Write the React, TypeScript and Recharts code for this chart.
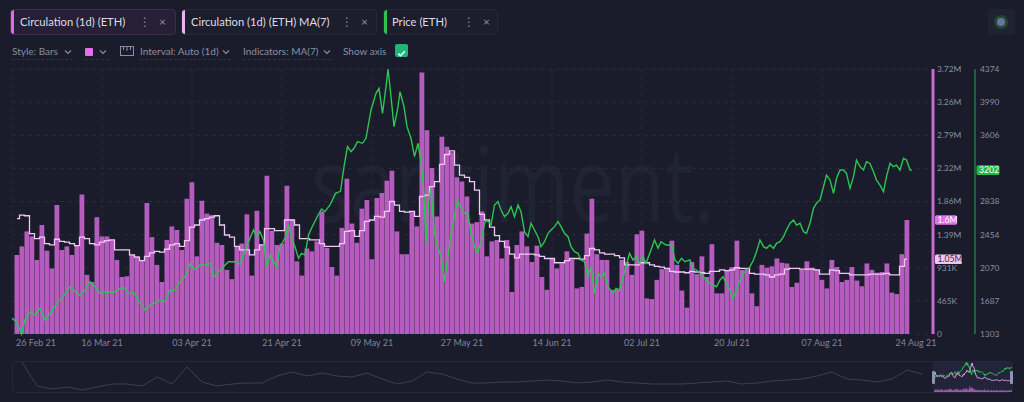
import React from 'react';
import { ComposedChart, LineChart, Bar, Line, XAxis, YAxis, CartesianGrid, ReferenceLine } from 'recharts';

const FONT = 'Lato, "Open Sans", "DejaVu Sans", sans-serif';
const BG = '#1a1c2b';
const PINK = '#b65cbf';
const MA_COLOR = '#f0c8f4';
const GREEN = '#2dc451';

// X axis (day offsets from 26 Feb 21)
const DATE_TICKS = [0, 18, 36, 54, 72, 90, 108, 126, 144, 162, 179];
const DATE_LABELS = ['26 Feb 21', '16 Mar 21', '03 Apr 21', '21 Apr 21', '09 May 21', '27 May 21', '14 Jun 21', '02 Jul 21', '20 Jul 21', '07 Aug 21', '24 Aug 21'];
const GRID_DAYS = [0, 18, 36, 54, 72, 90, 108, 126, 144, 162];

// Left (circulation) axis
const CIRC_TICKS = [0, 465000, 930000, 1395000, 1860000, 2325000, 2790000, 3255000, 3720000];
const CIRC_TICK_LABELS = ['0', '465K', '931K', '1.39M', '1.86M', '2.32M', '2.79M', '3.26M', '3.72M'];
// Right (price) axis
const PRICE_TICKS = [1303, 1686.875, 2070.75, 2454.625, 2838.5, 3222.375, 3606.25, 3990.125, 4374];
const PRICE_TICK_LABELS = ['1303', '1687', '2070', '2454', '2838', '', '3606', '3990', '4374'];

// Circulation (1d), millions ETH, days 1..179 (27 Feb .. 24 Aug)
const CIRC = [
  1.11, 1.23, 1.44, 1.37, 1.04, 1.53, 1.17, 0.92, 1.81, 1.18,
  1.23, 1.11, 1.25, 1.96, 0.83, 0.73, 1.64, 1.37, 1.37, 1.32,
  1.04, 0.80, 0.81, 1.11, 1.09, 1.04, 1.84, 1.36, 0.97, 0.73,
  1.32, 1.51, 1.46, 1.18, 1.90, 2.13, 1.09, 1.87, 1.69, 1.67,
  1.28, 1.25, 0.90, 0.77, 1.23, 1.27, 1.68, 0.82, 1.73, 1.25,
  2.22, 1.45, 1.25, 1.27, 2.08, 1.61, 1.02, 0.82, 1.20, 1.16,
  1.30, 1.72, 1.21, 0.94, 0.82, 1.49, 2.18, 1.55, 1.28, 1.76,
  1.88, 1.05, 1.91, 1.98, 2.15, 2.29, 1.44, 1.12, 1.12, 1.72,
  1.51, 3.67, 2.86, 2.33, 1.65, 2.77, 2.63, 2.55, 2.20, 2.14,
  1.93, 1.55, 1.57, 1.72, 1.09, 1.30, 1.32, 1.06, 1.32, 0.59,
  1.25, 1.44, 1.23, 1.01, 1.24, 0.80, 0.62, 1.06, 0.92, 0.99,
  1.16, 1.05, 0.64, 0.66, 1.41, 1.90, 1.12, 1.04, 1.04, 0.62,
  0.62, 1.04, 1.01, 0.83, 1.40, 1.45, 0.50, 0.49, 0.76, 0.91,
  0.92, 1.31, 0.97, 0.61, 0.37, 1.01, 0.84, 1.09, 0.80, 1.26,
  0.57, 0.57, 0.90, 0.94, 1.31, 0.90, 0.91, 0.57, 0.39, 0.97,
  0.93, 0.95, 1.06, 1.00, 0.99, 0.66, 0.72, 0.90, 1.02, 0.93,
  0.90, 0.76, 0.64, 1.04, 0.94, 0.73, 0.76, 0.94, 0.75, 0.67,
  0.99, 0.90, 0.86, 0.87, 0.99, 0.58, 0.56, 1.12, 1.60,
];

// Circulation MA(7), millions ETH, days 1..179
const MA7 = [
  1.62, 1.67, 1.66, 1.41, 1.34, 1.36, 1.27, 1.25, 1.33, 1.30,
  1.29, 1.27, 1.24, 1.36, 1.34, 1.27, 1.25, 1.29, 1.31, 1.32,
  1.18, 1.18, 1.18, 1.11, 1.08, 1.03, 1.09, 1.14, 1.16, 1.15,
  1.19, 1.25, 1.27, 1.23, 1.31, 1.50, 1.53, 1.60, 1.62, 1.64,
  1.66, 1.53, 1.39, 1.36, 1.23, 1.18, 1.18, 1.11, 1.18, 1.25,
  1.48, 1.48, 1.45, 1.45, 1.60, 1.60, 1.53, 1.34, 1.34, 1.32,
  1.32, 1.27, 1.23, 1.23, 1.23, 1.27, 1.44, 1.45, 1.37, 1.45,
  1.58, 1.60, 1.65, 1.64, 1.72, 1.86, 1.81, 1.72, 1.71, 1.72,
  1.65, 1.93, 1.95, 2.07, 2.14, 2.38, 2.52, 2.57, 2.37, 2.23,
  2.20, 2.14, 2.02, 1.68, 1.60, 1.50, 1.38, 1.30, 1.22, 1.12,
  1.07, 1.12, 1.12, 1.12, 1.11, 1.09, 1.06, 1.06, 1.00, 1.00,
  1.03, 1.06, 1.06, 1.05, 1.10, 1.20, 1.18, 1.14, 1.12, 1.12,
  1.10, 1.07, 0.97, 0.97, 0.97, 1.00, 1.00, 0.97, 0.95, 0.94,
  0.92, 0.88, 0.87, 0.87, 0.86, 0.88, 0.87, 0.86, 0.85, 0.88,
  0.88, 0.90, 0.89, 0.90, 0.93, 0.92, 0.92, 0.85, 0.84, 0.84,
  0.83, 0.80, 0.83, 0.84, 0.91, 0.92, 0.92, 0.91, 0.91, 0.91,
  0.90, 0.84, 0.84, 0.90, 0.89, 0.85, 0.85, 0.83, 0.83, 0.83,
  0.83, 0.84, 0.84, 0.84, 0.85, 0.83, 0.83, 0.95, 1.05,
];

// Price (ETH, USD): [day offset, price]
const PRICE: [number, number][] = [
  [0, 1485], [0.9, 1446], [1.9, 1303], [2.6, 1465], [3.6, 1561], [4.6, 1523], [5.6, 1601], [6.6, 1465],
  [7.9, 1561], [9.2, 1677], [10.2, 1735], [11.6, 1851], [12.6, 1793], [13.6, 1754], [14.6, 1812], [15.6, 1909],
  [16.6, 1851], [17.6, 1774], [18.9, 1793], [20.3, 1785], [21.3, 1821], [22.3, 1844], [23.3, 1774], [24.3, 1785],
  [25.3, 1689], [26.6, 1581], [27.6, 1639], [28.6, 1666], [29.6, 1697], [30.6, 1677], [31.6, 1813], [32.6, 1813],
  [33.6, 1909], [34.6, 1967], [35.6, 2122], [36.6, 2052], [37.6, 2102], [38.6, 2102], [39.6, 2122], [40.3, 1967],
  [41.3, 2025], [42.3, 2083], [43.3, 2141], [44.6, 2141], [45.6, 2111], [46.3, 2219], [47.3, 2373], [48.3, 2508],
  [48.9, 2431], [49.6, 2489], [50.3, 2392], [50.9, 2083], [51.6, 2219], [52.3, 2141], [52.9, 2083], [53.6, 2315],
  [54.6, 2412], [55.3, 2574], [55.9, 2412], [56.6, 2315], [57.3, 2180], [57.9, 2238], [58.6, 2219], [59.3, 2450],
  [59.9, 2528], [60.9, 2644], [61.9, 2752], [62.6, 2721], [63.6, 2798], [64.7, 2933], [65.7, 2956], [66.4, 3242],
  [67.1, 3474], [67.8, 3416], [68.4, 3455], [69.1, 3532], [70.1, 3513], [70.8, 3571], [71.8, 3899], [72.8, 4092],
  [73.4, 4150], [74.1, 3860], [74.8, 4170], [75.2, 4374], [75.8, 4053], [76.4, 3706], [77.1, 3899], [77.6, 4111],
  [78.4, 3938], [79, 3706], [79.8, 3571], [80.5, 3358], [81.2, 3513], [81.8, 3300], [82.3, 3010], [82.8, 2354],
  [83.3, 2838], [83.8, 2991], [84.5, 2470], [85.1, 2315], [85.8, 2199], [86.5, 1909], [87.1, 2161], [87.8, 2470],
  [88.5, 2663], [89.1, 2856], [89.8, 2760], [90.5, 2702], [91.1, 2721], [91.8, 2470], [92.5, 2315], [93.1, 2238],
  [93.8, 2373], [94.5, 2586], [95.1, 2624], [95.8, 2566], [96.5, 2798], [97.2, 2837], [97.8, 2740], [98.5, 2663],
  [99.2, 2702], [99.8, 2779], [100.5, 2663], [101.2, 2798], [101.8, 2721], [102.5, 2489], [103.2, 2431], [103.8, 2586],
  [104.5, 2508], [105.2, 2431], [105.8, 2315], [106.5, 2373], [107.2, 2470], [107.8, 2508], [108.5, 2547], [109.2, 2605],
  [109.8, 2547], [110.5, 2470], [111.2, 2431], [111.8, 2315], [112.5, 2257], [113.2, 2238], [113.8, 2161], [114.5, 2141],
  [115.2, 1967], [115.8, 2083], [116.5, 1774], [117.2, 2006], [117.8, 1967], [118.5, 2006], [119.2, 1851], [120.2, 1774],
  [120.8, 1832], [121.5, 1813], [122.2, 1967], [122.8, 2083], [123.5, 2238], [124.2, 2161], [124.8, 2199], [125.5, 2122],
  [126.2, 2199], [126.8, 2122], [127.8, 2276], [128.5, 2392], [129.2, 2296], [129.8, 2373], [130.8, 2334], [131.9, 2334],
  [132.6, 2161], [133.2, 2122], [133.9, 2180], [134.6, 2141], [135.6, 2161], [136.2, 2064], [136.9, 2045], [137.6, 2006],
  [138.2, 1967], [138.9, 1929], [139.6, 1890], [140.2, 1870], [140.9, 1851], [141.6, 1929], [142.2, 1967], [142.9, 1890],
  [143.6, 1813], [144.2, 1717], [144.9, 1813], [145.6, 1929], [146.3, 2006], [146.9, 2045], [147.6, 2083], [148.3, 2161],
  [148.9, 2257], [149.6, 2392], [150.3, 2315], [150.9, 2296], [151.6, 2334], [152.3, 2296], [152.9, 2354], [153.6, 2373],
  [154.3, 2431], [154.9, 2508], [155.6, 2586], [156.3, 2624], [156.9, 2566], [157.6, 2586], [158.3, 2489], [158.9, 2470],
  [159.6, 2586], [160.3, 2759], [160.9, 2818], [161.6, 2856], [162.3, 3010], [162.9, 3145], [163.6, 3087], [164.3, 2933],
  [164.9, 3106], [165.6, 3203], [166.3, 3203], [166.9, 3164], [167.6, 2991], [168.3, 3126], [168.9, 3319], [169.6, 3242],
  [170.3, 3203], [170.9, 3300], [171.6, 3280], [172.3, 3184], [172.9, 3087], [173.6, 3029], [174.3, 2952], [174.9, 3126],
  [175.6, 3280], [176.3, 3242], [176.9, 3261], [177.6, 3203], [178.3, 3339], [178.9, 3319], [179.6, 3203], [180, 3202],
];

// Navigator overview (relative level of the long-range history line)
const NAV_OVERVIEW = [
  30, 6, 3, 5, 2, 5, 8, 8, 6, 15, 8, 25, 10, 6, 8, 9, 9, 16, 20, 16,
  19, 16, 15, 19, 13, 8, 11, 20, 18, 13, 9, 9, 10, 10, 11, 12, 11, 9, 10, 12,
  10, 9, 8, 8, 8, 9, 10, 11, 8, 9, 11, 12, 13, 16, 20, 13, 12, 10, 13, 22, 18,
];

const AXIS_FONT = 8.4;

const DateTick = (props: any) => {
  const { x, y, payload } = props;
  const i = DATE_TICKS.indexOf(payload.value);
  if (i < 0) return null;
  const first = i === 0;
  const last = i === DATE_TICKS.length - 1;
  return (
    <text x={x + (first ? 4 : last ? 9 : 0)} y={y + 12} textAnchor={first ? 'start' : 'middle'}
      fill="#80839a" fontSize={9} fontFamily={FONT}>{DATE_LABELS[i]}</text>
  );
};

const Badge = (props: any) => {
  const { viewBox, text, bg, fg, dx, w } = props;
  if (!viewBox) return null;
  const x0 = viewBox.x + viewBox.width + dx;
  const y0 = viewBox.y;
  return (
    <g>
      <rect x={x0} y={y0 - 4.8} width={w} height={9.6} rx={1.5} fill={bg} />
      <text x={x0 + 2.5} y={y0 + 3.2} fontSize={8.6} fill={fg} fontFamily={FONT}>{text}</text>
    </g>
  );
};

const Chevron = ({ left, top }: { left: number; top: number }) => (
  <svg width={8} height={6} style={{ position: 'absolute', left, top }}>
    <path d="M1 1.5 L4 4.5 L7 1.5" fill="none" stroke="#8b8ea3" strokeWidth={1.1} />
  </svg>
);

const Chip = ({ left, width, accent, text, selected, dots, close }: any) => (
  <div style={{
    position: 'absolute', left, top: 9, width, height: 26, boxSizing: 'border-box',
    background: selected ? '#271f36' : '#1c1e2e', border: `1px solid ${selected ? '#3d2d4d' : '#262939'}`,
    borderRadius: 4, overflow: 'hidden',
  }}>
    <div style={{ position: 'absolute', left: 0, top: 0, width: 3, height: 24, background: accent }} />
    <div style={{ position: 'absolute', left: text.left, top: 5, fontSize: 11.2, color: '#dcdde6', fontFamily: FONT, whiteSpace: 'nowrap' }}>{text.label}</div>
    <div style={{ position: 'absolute', left: dots, top: 4, fontSize: 12, color: '#8a8da2', fontFamily: FONT }}>⋮</div>
    <div style={{ position: 'absolute', left: close, top: 4, fontSize: 12, color: '#8a8da2', fontFamily: FONT }}>×</div>
  </div>
);

const rowText = (left: number, label: string, width: number) => (
  <div style={{
    position: 'absolute', left, top: 45, height: 15, width, fontSize: 10, color: '#8b8ea3', fontFamily: FONT,
    whiteSpace: 'nowrap', borderBottom: '1px dashed #2f3245', boxSizing: 'border-box',
  }}>{label}</div>
);

export default function App() {
  const rows = CIRC.map((v, i) => ({ day: i + 1, circ: v * 1e6, ma: MA7[i] * 1e6 }));
  const priceRows = PRICE.map(([day, price]) => ({ day, price }));
  const navRows = NAV_OVERVIEW.map((v, i) => ({ i, v }));
  const lastCirc = CIRC[CIRC.length - 1];
  const lastMa = MA7[MA7.length - 1];
  const lastPrice = PRICE[PRICE.length - 1][1];

  return (
    <div style={{ position: 'relative', width: 1024, height: 402, background: BG, overflow: 'hidden', fontFamily: FONT }}>
      <style>{`html,body{margin:0;padding:0;background:${BG};}`}</style>

      {/* watermark */}
      <svg width={1024} height={402} style={{ position: 'absolute', left: 0, top: 0 }}>
        <text x={311} y={222} fontSize={104} fontFamily='"Open Sans", Lato, sans-serif' fill="#202333"
          textLength={404} lengthAdjust="spacingAndGlyphs">santiment.</text>
      </svg>

      {/* legend chips */}
      <Chip left={10} width={166} accent="#d96ee2" selected text={{ left: 9, label: 'Circulation (1d) (ETH)' }} dots={128} close={148} />
      <Chip left={181} width={196} accent="#eab2ee" text={{ left: 9, label: 'Circulation (1d) (ETH) MA(7)' }} dots={159} close={179} />
      <Chip left={383} width={115} accent="#2bc34e" text={{ left: 8, label: 'Price (ETH)' }} dots={79} close={99} />

      {/* top-right button */}
      <div style={{ position: 'absolute', left: 988, top: 9, width: 27, height: 26, background: '#1f2233', borderRadius: 4 }}>
        <div style={{ position: 'absolute', left: 6, top: 6, width: 14, height: 14, borderRadius: 7, background: '#1c4a33' }} />
        <div style={{ position: 'absolute', left: 9, top: 9, width: 8, height: 8, borderRadius: 4, background: '#6f7499' }} />
      </div>

      {/* settings row */}
      {rowText(12, 'Style: Bars', 61)}
      <Chevron left={64} top={49} />
      <div style={{ position: 'absolute', left: 85, top: 45, width: 24, height: 15, borderBottom: '1px dashed #2f3245', boxSizing: 'border-box' }} />
      <div style={{ position: 'absolute', left: 85, top: 48, width: 8, height: 8, background: '#e26ee9', borderRadius: 1 }} />
      <Chevron left={99} top={49} />
      <svg width={14} height={10} style={{ position: 'absolute', left: 120, top: 46 }}>
        <rect x={0.5} y={0.5} width={13} height={9} fill="none" stroke="#8b8ea3" strokeWidth={1} />
        <path d="M3.5 0.5 V4 M7 0.5 V5 M10.5 0.5 V4" stroke="#8b8ea3" strokeWidth={1} />
      </svg>
      {rowText(140, 'Interval: Auto (1d)', 91)}
      <Chevron left={222} top={49} />
      {rowText(243, 'Indicators: MA(7)', 88)}
      <Chevron left={323} top={49} />
      <div style={{ position: 'absolute', left: 343, top: 45, fontSize: 10, color: '#8b8ea3', fontFamily: FONT, whiteSpace: 'nowrap' }}>Show axis</div>
      <div style={{ position: 'absolute', left: 395, top: 44, width: 13, height: 13, background: '#1fb57a', borderRadius: 2 }}>
        <svg width={13} height={13}><path d="M3.2 6.6 L5.5 8.8 L9.8 4.2" fill="none" stroke="#ffffff" strokeWidth={1.5} /></svg>
      </div>

      {/* main chart */}
      <div style={{ position: 'absolute', left: 0, top: 0 }}>
        <ComposedChart width={1024} height={402} data={rows} margin={{ top: 69, right: 0, bottom: 48, left: 12 }}>
          <CartesianGrid xAxisId="g" yAxisId="circ" stroke="#282b3d" strokeDasharray="4 4" />
          <XAxis dataKey="day" type="number" domain={[0, 184.2]} allowDataOverflow ticks={DATE_TICKS} interval={0}
            tick={<DateTick />} axisLine={false} tickLine={false} tickSize={0} tickMargin={0} height={20} />
          <XAxis xAxisId="p" dataKey="day" type="number" domain={[0, 184.2]} allowDataOverflow hide />
          <XAxis xAxisId="g" dataKey="day" type="number" domain={[0, 184.2]} allowDataOverflow ticks={GRID_DAYS} interval={0} hide />
          <YAxis yAxisId="circ" orientation="right" domain={[0, 3720000]} ticks={CIRC_TICKS} interval={0} width={42}
            axisLine={{ stroke: '#c56bcf', strokeWidth: 3 }} tickLine={false} tickSize={0} tickMargin={4}
            tick={{ fill: '#8b8ea2', fontSize: AXIS_FONT, fontFamily: FONT }}
            tickFormatter={(v: number) => CIRC_TICK_LABELS[CIRC_TICKS.indexOf(v)] ?? ''} />
          <YAxis yAxisId="price" orientation="right" domain={[1303, 4374]} ticks={PRICE_TICKS} interval={0} width={49}
            axisLine={{ stroke: '#25a945', strokeWidth: 1 }} tickLine={false} tickSize={0} tickMargin={5}
            tick={{ fill: '#8b8ea2', fontSize: AXIS_FONT, fontFamily: FONT }}
            tickFormatter={(v: number) => PRICE_TICK_LABELS[PRICE_TICKS.indexOf(v)] ?? ''} />
          <Bar dataKey="circ" yAxisId="circ" barSize={4.8} fill={PINK} isAnimationActive={false} />
          <Line dataKey="ma" yAxisId="circ" type="step" stroke={MA_COLOR} strokeWidth={1.3} dot={false} isAnimationActive={false} />
          <Line data={priceRows} xAxisId="p" dataKey="price" yAxisId="price" type="linear" stroke={GREEN} strokeWidth={1.4} dot={false} isAnimationActive={false} />
          <ReferenceLine yAxisId="circ" y={lastCirc * 1e6} stroke="none" ifOverflow="visible"
            label={<Badge text={`${lastCirc}M`} bg="#e071e7" fg="#ffffff" dx={2} w={22} />} />
          <ReferenceLine yAxisId="circ" y={lastMa * 1e6} stroke="none" ifOverflow="visible"
            label={<Badge text={`${lastMa}M`} bg="#f2c4f5" fg="#3a2d44" dx={2} w={27} />} />
          <ReferenceLine yAxisId="price" y={lastPrice} stroke="none" ifOverflow="visible"
            label={<Badge text={`${lastPrice}`} bg="#22b845" fg="#ffffff" dx={43.5} w={23} />} />
        </ComposedChart>
      </div>

      {/* navigator */}
      <div style={{ position: 'absolute', left: 12, top: 361, width: 1001, height: 32, boxSizing: 'border-box', border: '1px solid #252838', borderRadius: 4 }} />
      <div style={{ position: 'absolute', left: 12, top: 362 }}>
        <LineChart width={921} height={30} data={navRows} margin={{ top: 0, right: 11, bottom: 0, left: 10 }}>
          <XAxis dataKey="i" type="number" domain={[0, 60]} hide />
          <YAxis hide domain={[0, 30]} />
          <Line dataKey="v" type="linear" stroke="#3a3e56" strokeWidth={1} dot={false} isAnimationActive={false} />
        </LineChart>
      </div>
      <div style={{ position: 'absolute', left: 933, top: 362, width: 80, height: 30, background: '#22253a' }} />
      <div style={{ position: 'absolute', left: 934, top: 362 }}>
        <ComposedChart width={78} height={30} data={rows} margin={{ top: 0, right: 0, bottom: 0, left: 0 }}>
          <XAxis dataKey="day" type="number" domain={[0, 180]} hide />
          <XAxis xAxisId="np" dataKey="day" type="number" domain={[0, 180]} hide />
          <YAxis yAxisId="nb" hide domain={[0, 18000000]} />
          <YAxis yAxisId="nm" hide domain={[-280000, 2670000]} />
          <YAxis yAxisId="npy" hide domain={[-1400, 4374]} />
          <Bar dataKey="circ" yAxisId="nb" barSize={0.4} fill="#d46fdc" isAnimationActive={false} />
          <Line dataKey="ma" yAxisId="nm" type="linear" stroke="#e6a9ea" strokeWidth={1} dot={false} isAnimationActive={false} />
          <Line data={priceRows} xAxisId="np" dataKey="price" yAxisId="npy" type="linear" stroke={GREEN} strokeWidth={1} dot={false} isAnimationActive={false} />
        </ComposedChart>
      </div>
      <div style={{ position: 'absolute', left: 932, top: 371, width: 3, height: 13, background: '#8d93b2', borderRadius: 1 }} />
      <div style={{ position: 'absolute', left: 1010, top: 371, width: 3, height: 13, background: '#8d93b2', borderRadius: 1 }} />
    </div>
  );
}
